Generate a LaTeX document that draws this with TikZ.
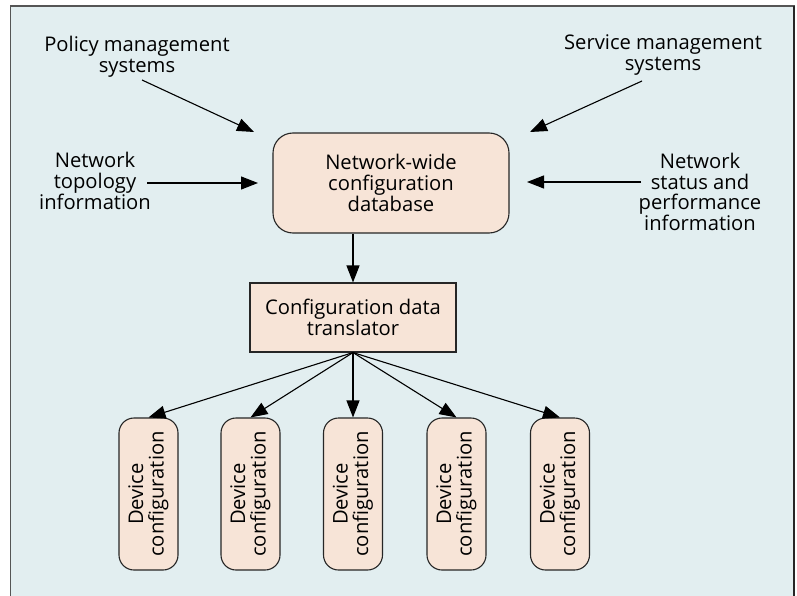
\documentclass[tikz,border=0pt]{standalone}
\usepackage{fontspec}
\setmainfont{Open Sans}
\usetikzlibrary{arrows.meta}
\definecolor{panelblue}{HTML}{E2EEF0}
\definecolor{peach}{HTML}{F7E4D7}
\definecolor{framegray}{HTML}{555555}
\newcommand{\devtext}{\rotatebox{90}{\begin{tabular}{@{}c@{}}Device\\configuration\end{tabular}}}
\begin{document}
\begin{tikzpicture}[x=1pt,y=-1pt,
  lbl/.style={align=center,inner sep=0pt,font=\fontsize{20.2}{20.8}\selectfont},
  box/.style={draw=black!85,line width=1.1pt,fill=peach,inner sep=0pt,align=center,
    font=\fontsize{20.2}{20.8}\selectfont},
  devbox/.style={box,rounded corners=15pt,minimum width=59pt,minimum height=152pt,
    font=\fontsize{20.2}{17}\selectfont},
  arr/.style={-{Triangle[length=17pt,width=13pt]},line width=1.1pt}]
  % canvas and panel
  \useasboundingbox (0,0) rectangle (797,596);
  \fill[white] (0,0) rectangle (797,596);
  \draw[fill=panelblue,draw=framegray,line width=1.3pt] (10.5,6) rectangle (794,610);
  \draw[black!85,line width=1.6pt] (794,6) -- (794,610);

  % main boxes
  \node[box,rounded corners=20pt,minimum width=236pt,minimum height=100pt] (db) at (391,183)
    {Network-wide\\configuration\\database};
  \node[box,minimum width=206pt,minimum height=69pt] (tr) at (353,317.5)
    {Configuration data\\translator};

  % device boxes
  \node[devbox] (d1) at (148.5,494) {\devtext};
  \node[devbox] (d2) at (250.5,494) {\devtext};
  \node[devbox] (d3) at (353,494) {\devtext};
  \node[devbox] (d4) at (456.5,494) {\devtext};
  \node[devbox] (d5) at (560,494) {\devtext};

  % input labels
  \node[lbl] (policy) at (137,57) {Policy management\\systems};
  \node[lbl] (service) at (663,55) {Service management\\systems};
  \node[lbl] (topo) at (95,181) {Network\\topology\\information};
  \node[lbl] (status) at (700,192) {Network\\status and\\performance\\information};

  % arrow end points near the database
  \coordinate (pIn) at (254,132);
  \coordinate (sIn) at (530,132);
  \coordinate (tIn) at (258,183);
  \coordinate (nIn) at (527,182);
  \coordinate (pOut) at (142,80);
  \coordinate (sOut) at (642,81);
  \coordinate (tOut) at (147,183);
  \coordinate (nOut) at (641,182);

  \draw[arr] (pOut) -- (pIn);
  \draw[arr] (sOut) -- (sIn);
  \draw[arr] (tOut) -- (tIn);
  \draw[arr] (nOut) -- (nIn);

  \draw[arr] (tr.north |- db.south) -- (tr.north);
  \foreach \d in {d1,d2,d3,d4,d5}
    \draw[arr] (tr.south) -- (\d.north);
\end{tikzpicture}
\end{document}
